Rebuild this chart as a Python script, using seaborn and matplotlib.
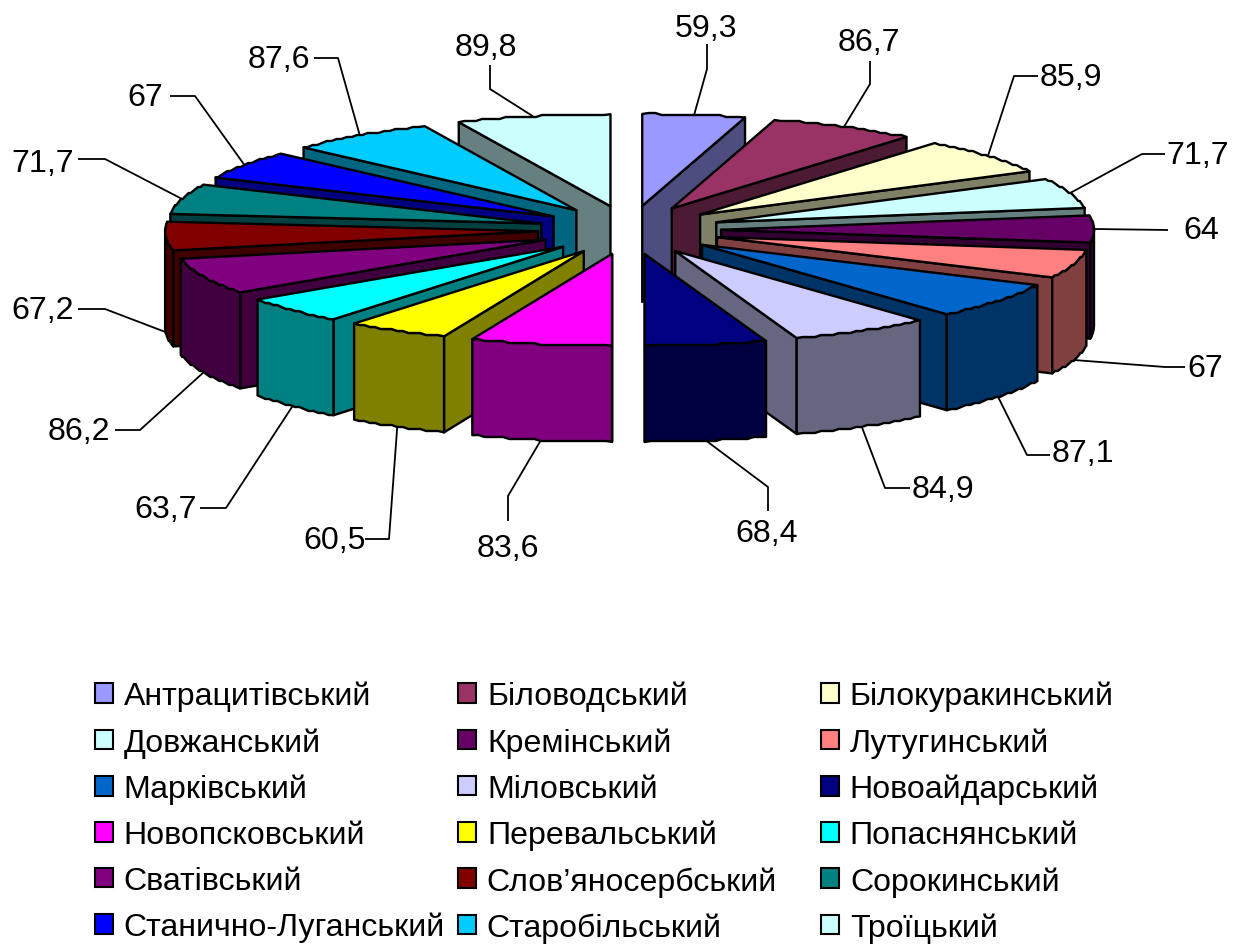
import numpy as np
import matplotlib
matplotlib.use("Agg")
import matplotlib.pyplot as plt
from matplotlib.patches import Patch, Polygon
import seaborn as sns

# Slices, clockwise from twelve o'clock
districts = ["Антрацитівський", "Біловодський", "Білокуракинський", "Довжанський",
             "Кремінський", "Лутугинський", "Марківський", "Міловський",
             "Новоайдарський", "Новопсковський", "Перевальський", "Попаснянський",
             "Сватівський", "Слов’яносербський", "Сорокинський",
             "Станично-Луганський", "Старобільський", "Троїцький"]
values = [59.3, 86.7, 85.9, 71.7, 64, 67, 87.1, 84.9, 68.4, 83.6,
          60.5, 63.7, 86.2, 67.2, 71.7, 67, 87.6, 89.8]
hex_colors = ["#9999FF", "#993366", "#FFFFCC", "#CCFFFF", "#660066", "#FF8080",
              "#0066CC", "#CCCCFF", "#000080", "#FF00FF", "#FFFF00", "#00FFFF",
              "#800080", "#800000", "#008080", "#0000FF", "#00CCFF", "#CCFFFF"]

# Leader elbow and end, then label centre, one row per slice
elbows = [(707, 70), (870, 85), (1014, 77), (1142, 155), (1168, 231), (1165, 368),
          (1027, 456), (885, 489), (768, 488), (508, 497), (389, 540), (226, 509),
          (140, 431), (105, 310), (105, 160), (195, 97), (338, 59), (490, 90)]
ends = [(707, 45), (870, 62), (1038, 77), (1165, 155), (1168, 231), (1185, 368),
        (1050, 456), (910, 489), (768, 512), (508, 522), (365, 540), (200, 509),
        (115, 431), (78, 310), (78, 160), (170, 97), (314, 59), (490, 66)]
label_xy = [(706, 29), (869, 43), (1071, 78), (1198, 156), (1201, 231), (1205, 369),
            (1083, 454), (943, 490), (767, 534), (508, 549), (335, 541), (166, 510),
            (79, 432), (43, 311), (43, 164), (145, 98), (279, 60), (486, 48)]

sns.set_theme(style="white")
plt.rcParams["font.family"] = ["Liberation Sans", "DejaVu Sans"]
palette = sns.color_palette(hex_colors)

CX, CY = 629.5, 231.0      # pie centre on the canvas
RX, RY = 373.0, 92.0       # top ellipse radii
EX, EY = 91.5, 24.3        # explosion offset
DEPTH = 96.0               # wall height
LW = 1.7
GRID = 2.0                 # coarse vertex grid that gives the rims their stepped look
FONT = 23.1

fig = plt.figure(figsize=(12.33, 9.45), dpi=100)
ax = fig.add_axes([0, 0, 1, 1])
ax.set_xlim(0, 1233)
ax.set_ylim(945, 0)
ax.axis("off")

# Slice boundaries snap to whole degrees
edges = np.deg2rad(np.round(np.cumsum([0] + values) / sum(values) * 360))
mids = (edges[:-1] + edges[1:]) / 2


def apex(mid):
    return np.array([CX + EX * np.sin(mid), CY - EY * np.cos(mid)])


def rim(mid, theta):
    a = apex(mid)
    return np.column_stack([a[0] + RX * np.sin(theta), a[1] - RY * np.cos(theta)])


def stepped(points):
    pts = np.array(points, dtype=float)
    inner = pts[1:-1]
    inner[:, 1] = np.round(inner[:, 1] / GRID) * GRID
    return pts


def arc(a, b):
    n = max(3, int(abs(b - a) * RX / 6))
    return np.linspace(a, b, n)


def face(points, color, z):
    ax.add_patch(Polygon(points, closed=True, facecolor=color, edgecolor="black",
                         linewidth=LW, joinstyle="round", zorder=z))


# Painter's order: each half runs from the back of the pie to its front
right = [i for i in range(len(values)) if mids[i] < np.pi]
left = [i for i in range(len(values) - 1, -1, -1) if mids[i] >= np.pi]
z = 1
for i in right + left:
    a, b, m = edges[i], edges[i + 1], mids[i]
    top = palette[i]
    dark = tuple(c * 0.5 for c in top)
    tip = apex(m)
    down = np.array([0, DEPTH])

    # radial cut facing the viewer
    cut = b if m < np.pi else a
    p = rim(m, np.array([cut]))[0]
    face([tip, p, p + down, tip + down], dark, z)
    z += 1

    # outer wall, front half of the ellipse only
    lo, hi = max(a, np.pi / 2), min(b, 3 * np.pi / 2)
    if hi > lo:
        upper = stepped(rim(m, arc(lo, hi)))
        lower = stepped(rim(m, arc(lo, hi)) + down)
        face(np.vstack([upper, lower[::-1]]), dark, z)
        z += 1

    # top surface
    face(np.vstack([tip, stepped(rim(m, arc(a, b)))]), top, z)
    z += 1

# Leader lines and value labels
for i, v in enumerate(values):
    m = mids[i]
    start = rim(m, np.array([m]))[0]
    if np.cos(m) < 0:
        start = start + np.array([0, DEPTH])
    xs = [start[0], elbows[i][0], ends[i][0]]
    ys = [start[1], elbows[i][1], ends[i][1]]
    ax.plot(xs, ys, color="black", lw=1.3, zorder=z, solid_capstyle="butt")
    ax.text(*label_xy[i], f"{v:g}".replace(".", ","), ha="center", va="center",
            fontsize=FONT, color="black", zorder=z + 1)

# Legend: three equal columns filled row by row
col_x = [95, 458, 821]
for c, x0 in enumerate(col_x):
    idx = range(c, len(districts), 3)
    handles = [Patch(facecolor=palette[i], edgecolor="black", linewidth=1.5) for i in idx]
    leg = ax.legend(handles, [districts[i] for i in idx],
                    loc="upper left", bbox_to_anchor=(x0 / 1233, 1 - 682 / 945),
                    bbox_transform=fig.transFigure, frameon=False, borderpad=0,
                    borderaxespad=0, fontsize=FONT, handlelength=0.56, handleheight=0.56,
                    handletextpad=0.34, labelspacing=0.495, labelcolor="black")
    # keep each column; the next legend call would otherwise replace it
    if c < len(col_x) - 1:
        ax.add_artist(leg)

fig.savefig("out.png", dpi=100)
